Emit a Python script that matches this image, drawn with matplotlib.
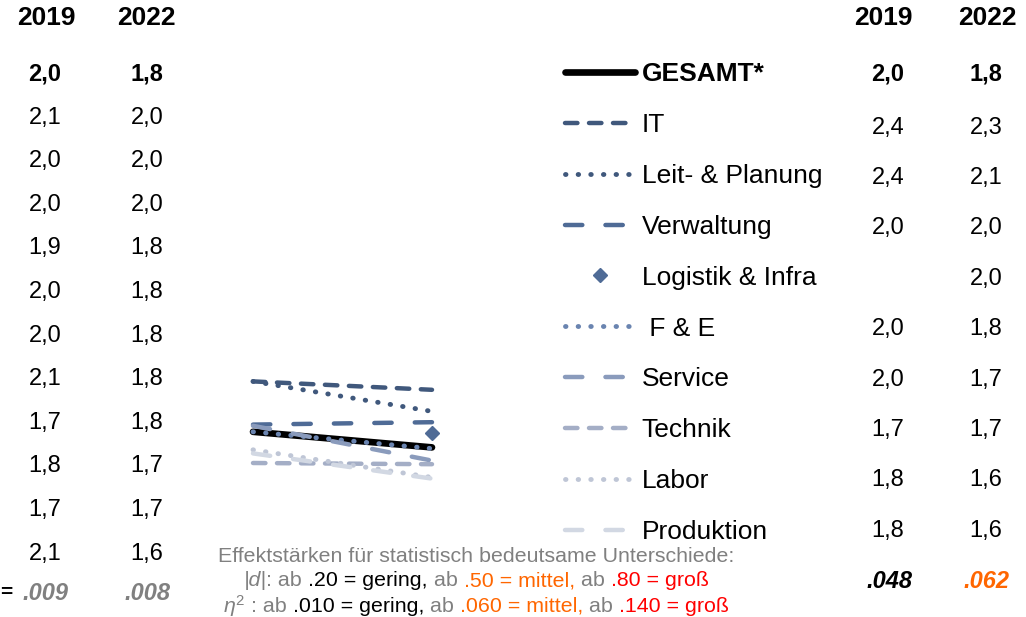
import numpy as np
import matplotlib.pyplot as plt

plt.rcParams['font.family'] = ['Liberation Sans', 'DejaVu Sans']
plt.rcParams['mathtext.fontset'] = 'custom'
plt.rcParams['mathtext.rm'] = 'Liberation Sans'
plt.rcParams['mathtext.it'] = 'Liberation Sans:italic'

# data
years = [2019, 2022]
groups = ["GESAMT*", "IT", "Leit- & Planung", "Verwaltung", "Logistik & Infra",
          " F & E", "Service", "Technik", "Labor", "Produktion"]
means_2019 = [1.96, 2.38, 2.38, 2.02, np.nan, 1.96, 2.01, 1.70, 1.81, 1.78]
means_2022 = [1.83, 2.31, 2.13, 2.04, 1.95, 1.82, 1.72, 1.69, 1.58, 1.57]
labels_2019 = ["2,0", "2,4", "2,4", "2,0", "", "2,0", "2,0", "1,7", "1,8", "1,8"]
labels_2022 = ["1,8", "2,3", "2,1", "2,0", "2,0", "1,8", "1,7", "1,7", "1,6", "1,6"]
eta_right = [".048", ".062"]

left_2019 = ["2,0", "2,1", "2,0", "2,0", "1,9", "2,0", "2,0", "2,1", "1,7", "1,8", "1,7", "2,1"]
left_2022 = ["1,8", "2,0", "2,0", "2,0", "1,8", "1,8", "1,8", "1,8", "1,8", "1,7", "1,7", "1,6"]
eta_left = [".009", ".008"]

# styles
colors = ['black', '#40587C', '#40587C', '#4F6B96', '#4F6B96',
          '#6A84B0', '#8A9BBC', '#A4AEC6', '#BFC6D6', '#D2D8E3']
dashed = (2.8, 2.6)
dotted = (0.1, 2.5)
longdash = (3.9, 5.2)
patterns = [None, dashed, dotted, longdash, None, dotted, longdash, dashed, dotted, longdash]
widths = [4.8, 3.2, 3.5, 3.2, 0, 3.5, 3.2, 3.2, 3.5, 3.2]

W, H = 1026, 617
fig = plt.figure(figsize=(W / 100, H / 100), dpi=100)


def fx(x):
    return x / W


def fy(y):
    return 1 - y / H


# small line chart
ax = fig.add_axes([fx(253), fy(490), (432 - 253) / W, 120 / H])
ax.set_xlim(years[0], years[1])
ax.set_ylim(1.475, 2.475)
ax.axis('off')

handles = []
for i, g in enumerate(groups):
    vals = [means_2019[i], means_2022[i]]
    if patterns[i] is None and widths[i] == 0:
        h, = ax.plot(years, vals, linestyle='none', marker='D', markersize=7.5,
                     color=colors[i], clip_on=False, zorder=3)
    elif patterns[i] is None:
        h, = ax.plot(years, vals, color=colors[i], lw=widths[i],
                     solid_capstyle='round', clip_on=False, zorder=2)
    else:
        h, = ax.plot(years, vals, color=colors[i], lw=widths[i], dashes=patterns[i],
                     dash_capstyle='round', clip_on=False, zorder=3)
    handles.append(h)

leg = fig.legend(handles, groups, loc='upper left', bbox_to_anchor=(fx(565), fy(62)),
                 frameon=False, fontsize=19, handlelength=2.65, handletextpad=0.25,
                 labelspacing=1.02, borderpad=0, borderaxespad=0, numpoints=1)
leg.get_texts()[0].set_fontweight('bold')

# right value columns
fig.text(fx(883), fy(18), "2019", fontsize=19, fontweight='bold', ha='center', va='center')
fig.text(fx(987), fy(18), "2022", fontsize=19, fontweight='bold', ha='center', va='center')
rows_r = [74, 128, 178, 228, 279, 329, 380, 430, 480, 531]
for i, y in enumerate(rows_r):
    wt = 'bold' if i == 0 else 'normal'
    fig.text(fx(888), fy(y), labels_2019[i], fontsize=17, fontweight=wt, ha='center', va='center')
    fig.text(fx(986), fy(y), labels_2022[i], fontsize=17, fontweight=wt, ha='center', va='center')
fig.text(fx(889), fy(582), eta_right[0], fontsize=17, fontweight='bold', style='italic',
         ha='center', va='center', color='black')
fig.text(fx(986), fy(582), eta_right[1], fontsize=17, fontweight='bold', style='italic',
         ha='center', va='center', color='#FF6600')

# left value columns (cut off table)
fig.text(fx(46), fy(18), "2019", fontsize=19, fontweight='bold', ha='center', va='center')
fig.text(fx(146), fy(18), "2022", fontsize=19, fontweight='bold', ha='center', va='center')
for i in range(len(left_2019)):
    y = 74 + 43.6 * i
    wt = 'bold' if i == 0 else 'normal'
    fig.text(fx(45), fy(y), left_2019[i], fontsize=17, fontweight=wt, ha='center', va='center')
    fig.text(fx(147), fy(y), left_2022[i], fontsize=17, fontweight=wt, ha='center', va='center')
fig.text(fx(45), fy(594), eta_left[0], fontsize=17, fontweight='bold', style='italic',
         ha='center', va='center', color='#808080')
fig.text(fx(147), fy(594), eta_left[1], fontsize=17, fontweight='bold', style='italic',
         ha='center', va='center', color='#808080')
fig.text(fx(0), fy(593), "=", fontsize=15, fontweight='bold', ha='left', va='center')

# footnote
gray, orange, red = '#808080', '#FF6600', '#FF0000'
fs_note = 15.4
renderer = fig.canvas.get_renderer()


def note_line(y, pieces, xc=476):
    objs = []
    for s, c, st in pieces:
        objs.append(fig.text(0, fy(y), s, color=c, style=st, fontsize=fs_note, va='center'))
    widths_px = [t.get_window_extent(renderer).width for t in objs]
    x = xc - sum(widths_px) / 2
    for t, w in zip(objs, widths_px):
        t.set_x(fx(x))
        x += w


note_line(557, [("Effektstärken für statistisch bedeutsame Unterschiede:", gray, 'normal')])
note_line(581, [("|d|", gray, 'italic'), (": ab ", gray, 'normal'),
                (".20 = gering, ", 'black', 'normal'), ("ab ", gray, 'normal'),
                (".50 = mittel, ", orange, 'normal'), ("ab ", gray, 'normal'),
                (".80 = groß", red, 'normal')])
note_line(606, [(r"$\eta^2$", gray, 'normal'), (" : ab ", gray, 'normal'),
                (".010 = gering, ", 'black', 'normal'), ("ab ", gray, 'normal'),
                (".060 = mittel, ", orange, 'normal'), ("ab ", gray, 'normal'),
                (".140 = groß", red, 'normal')])

fig.savefig('out.png', dpi=100)
